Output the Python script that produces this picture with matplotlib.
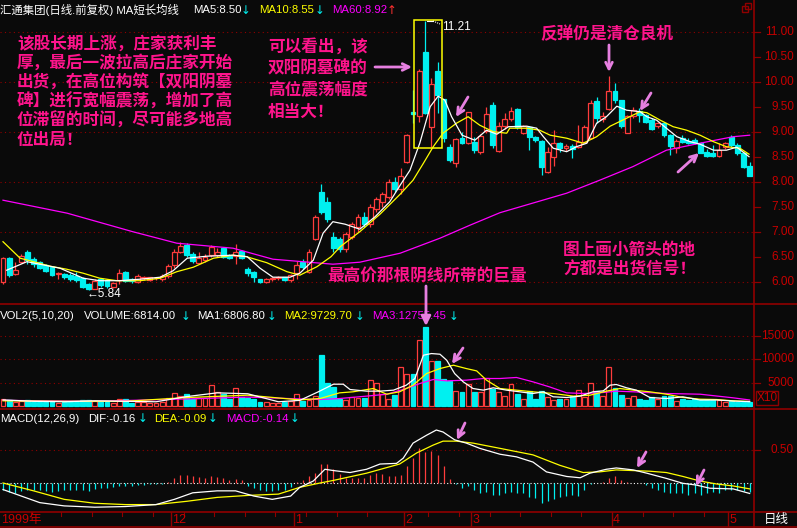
import matplotlib
matplotlib.use('Agg')
import matplotlib.pyplot as plt
import numpy as np

# ---------------- 数据 ----------------
opens = [6.00, 6.47, 6.15, 6.40, 6.60, 6.45, 6.40, 6.33, 6.30, 6.15,
         6.15, 6.14, 6.11, 6.07, 5.95, 5.86, 6.05, 6.03, 5.90, 6.03,
         6.20, 6.06, 6.00, 6.08, 6.04, 6.07, 6.05, 6.11, 6.33, 6.60,
         6.73, 6.55, 6.38, 6.43, 6.53, 6.53, 6.67, 6.53, 6.51, 6.61,
         6.25, 6.20, 6.05, 5.99, 6.05, 6.07, 6.09, 6.03, 6.17, 6.40,
         6.20, 6.85, 7.80, 7.60, 6.90, 6.85, 6.65, 6.90, 7.10, 7.30,
         7.15, 7.45, 7.60, 7.70, 8.00, 7.85, 8.40, 9.40, 9.31, 10.59,
         9.10, 10.21, 9.65, 8.70, 8.38, 8.87, 8.78, 8.80, 8.60, 9.02,
         9.53, 8.62, 9.12, 9.25, 9.45, 8.97, 9.09, 8.89, 8.81, 8.20,
         8.50, 8.78, 8.68, 8.71, 8.70, 8.80, 8.87, 9.62, 9.25, 9.45,
         9.82, 9.63, 8.98, 9.31, 9.42, 9.33, 9.23, 9.11, 9.18, 8.93,
         8.68, 8.87, 8.82, 8.83, 8.78, 8.60, 8.57, 8.51, 8.69, 8.89,
         8.73, 8.57, 8.31]
highs = [6.50, 6.50, 6.40, 6.55, 6.63, 6.50, 6.42, 6.35, 6.32, 6.20,
         6.18, 6.18, 6.20, 6.10, 5.98, 6.06, 6.08, 6.06, 6.00, 6.25,
         6.22, 6.08, 6.15, 6.12, 6.10, 6.10, 6.15, 6.35, 6.66, 6.79,
         6.78, 6.60, 6.60, 6.55, 6.73, 6.68, 6.70, 6.56, 6.76, 6.63,
         6.30, 6.22, 6.06, 6.07, 6.09, 6.11, 6.10, 6.15, 6.42, 6.45,
         6.65, 7.33, 7.95, 7.70, 7.00, 6.90, 7.00, 7.20, 7.35, 7.40,
         7.55, 7.70, 7.80, 8.05, 8.10, 8.27, 8.95, 9.83, 10.26, 11.21,
         10.07, 10.40, 9.65, 8.75, 8.88, 9.00, 9.40, 8.90, 8.95, 9.50,
         9.60, 9.20, 9.37, 9.50, 9.48, 9.14, 9.12, 8.92, 8.83, 8.70,
         9.03, 8.80, 8.76, 8.75, 9.14, 9.14, 9.63, 9.70, 9.40, 10.11,
         9.98, 9.63, 9.33, 9.50, 9.48, 9.36, 9.27, 9.20, 9.20, 8.95,
         8.85, 8.93, 8.88, 8.88, 8.80, 8.65, 8.73, 8.78, 8.80, 8.93,
         8.77, 8.59, 8.40]
lows = [5.95, 6.10, 6.13, 6.38, 6.35, 6.30, 6.25, 6.20, 6.12, 6.05,
        6.06, 6.02, 6.00, 5.88, 5.84, 5.85, 5.90, 5.88, 5.88, 5.95,
        6.00, 5.98, 5.98, 6.04, 6.02, 6.03, 6.02, 6.08, 6.28, 6.58,
        6.50, 6.38, 6.35, 6.40, 6.50, 6.50, 6.48, 6.45, 6.35, 6.45,
        6.12, 6.00, 5.98, 5.97, 6.02, 6.04, 6.02, 6.00, 6.05, 6.25,
        6.18, 6.83, 7.35, 7.20, 6.60, 6.60, 6.60, 6.85, 7.00, 7.10,
        7.10, 7.40, 7.50, 7.65, 7.80, 7.75, 8.38, 9.17, 9.20, 9.35,
        8.70, 9.37, 8.80, 8.40, 8.30, 8.75, 8.75, 8.58, 8.55, 8.97,
        8.68, 8.60, 9.05, 9.22, 9.05, 8.95, 8.63, 8.80, 8.14, 8.17,
        8.32, 8.60, 8.62, 8.47, 8.68, 8.78, 8.85, 9.17, 9.20, 9.43,
        9.58, 9.08, 8.97, 9.28, 9.20, 9.18, 9.03, 9.07, 8.90, 8.53,
        8.57, 8.78, 8.76, 8.76, 8.57, 8.49, 8.50, 8.50, 8.65, 8.70,
        8.53, 8.27, 8.11]
closes = [6.47, 6.13, 6.23, 6.51, 6.43, 6.36, 6.27, 6.22, 6.13, 6.17,
          6.09, 6.06, 6.03, 5.90, 5.86, 6.02, 5.93, 5.92, 5.97, 6.18,
          6.02, 6.01, 6.11, 6.09, 6.09, 6.07, 6.11, 6.31, 6.60, 6.71,
          6.53, 6.42, 6.48, 6.50, 6.70, 6.60, 6.50, 6.48, 6.60, 6.47,
          6.17, 6.09, 6.00, 6.05, 6.07, 6.09, 6.03, 6.13, 6.33, 6.30,
          6.60, 7.30, 7.40, 7.25, 6.67, 6.65, 6.95, 7.15, 7.30, 7.15,
          7.50, 7.65, 7.75, 8.00, 7.85, 8.12, 8.93, 9.36, 10.21, 9.38,
          9.95, 9.73, 8.87, 8.43, 8.85, 8.78, 9.40, 8.63, 8.91, 9.35,
          8.73, 9.11, 9.25, 9.42, 9.10, 9.11, 8.90, 8.84, 8.30, 8.59,
          8.78, 8.67, 8.71, 8.65, 8.80, 9.09, 9.57, 9.27, 9.31, 9.82,
          9.63, 9.11, 9.31, 9.43, 9.33, 9.20, 9.05, 9.17, 8.93, 8.71,
          8.82, 8.80, 8.78, 8.77, 8.58, 8.52, 8.52, 8.63, 8.78, 8.73,
          8.57, 8.30, 8.11]
volumes = [1500, 1200, 900, 1100, 1300, 900, 800, 900, 1000, 700,
           800, 900, 800, 1200, 1300, 1100, 900, 800, 700, 1500,
           1400, 700, 900, 800, 700, 600, 900, 1600, 2800, 2200,
           2500, 1500, 1800, 1700, 4400, 3000, 2500, 1500, 3800, 2000,
           1800, 1500, 900, 800, 700, 700, 800, 1100, 2500, 1020,
           1280, 2230, 10810, 4940, 4070, 1520, 1280, 1850, 1640, 1780,
           5500, 4940, 2500, 1500, 2300, 8400, 6900, 6900, 14000, 16840,
           9520, 9520, 5640, 5290, 3160, 2950, 4580, 3020, 3020, 6000,
           3700, 3020, 2100, 4650, 2510, 1590, 3230, 1450, 3160, 1990,
           1280, 1450, 1450, 2100, 3370, 1990, 5000, 3160, 2100, 8400,
           3800, 2300, 1780, 2100, 1520, 1380, 1850, 1520, 2230, 2230,
           1130, 1520, 1380, 1450, 1380, 1280, 1380, 1280, 920, 1130,
           920, 920, 850]
macd_bars = [-0.10, -0.14, -0.16, -0.12, -0.10, -0.10, -0.11, -0.12, -0.13, -0.12,
             -0.11, -0.10, -0.10, -0.11, -0.12, -0.09, -0.08, -0.07, -0.06, -0.04,
             -0.04, -0.04, -0.03, -0.03, -0.02, -0.02, -0.01, 0.02, 0.08, 0.12,
             0.12, 0.10, 0.09, 0.08, 0.10, 0.09, 0.07, 0.05, 0.06, 0.04,
             -0.04, -0.08, -0.11, -0.12, -0.12, -0.11, -0.10, -0.06, 0.02, 0.05,
             0.10, 0.16, 0.29, 0.29, 0.22, 0.14, 0.07, 0.08, 0.08, 0.07,
             0.12, 0.16, 0.13, 0.10, 0.10, 0.12, 0.26, 0.38, 0.53, 0.48,
             0.49, 0.43, 0.26, 0.06, -0.02, -0.08, -0.04, -0.11, -0.16, -0.13,
             -0.18, -0.18, -0.16, -0.13, -0.16, -0.16, -0.21, -0.23, -0.30, -0.28,
             -0.25, -0.22, -0.20, -0.18, -0.20, -0.11, -0.01, 0.0, 0.02, 0.08,
             0.10, 0.04, 0.01, 0.005, 0.0, -0.03, -0.07, -0.11, -0.13, -0.16,
             -0.16, -0.16, -0.18, -0.16, -0.18, -0.16, -0.13, -0.16, -0.11, -0.10,
             -0.10, -0.12, -0.14]

# 均线折点 (K线序号, 数值)
ma5_idx = [0.6, 3.9, 6.0, 9.3, 13.1, 15.8, 19.1, 22.4, 25.7, 27.8, 30.1, 33.3, 37.6,
           39.9, 42.0, 44.1, 46.9, 48.5, 50.7, 52.3, 53.9, 55.9, 58.3, 60.8, 63.2,
           65.0, 66.5, 68.1, 69.8, 71.1, 72.2, 73.3, 75.0, 77.1, 79.0, 80.7, 82.6,
           85.6, 87.2, 88.3, 89.9, 92.1, 93.7, 95.4, 97.0, 98.6, 100.3, 101.9,
           104.1, 105.2, 106.8, 108.4, 110.1, 112.3, 113.9, 116.1, 118.2, 119.9,
           121.9]
ma5_val = [6.23, 6.40, 6.35, 6.27, 6.07, 6.02, 6.02, 6.05, 6.09, 6.22, 6.47, 6.51, 6.53,
           6.50, 6.27, 6.09, 6.09, 6.17, 6.43, 6.97, 7.20, 7.15, 7.05, 7.30, 7.60,
           7.95, 8.23, 8.77, 9.50, 9.71, 9.63, 9.30, 8.93, 8.83, 9.03, 8.95, 9.10,
           9.11, 9.07, 8.90, 8.67, 8.60, 8.70, 8.77, 9.17, 9.30, 9.51, 9.43,
           9.40, 9.30, 9.23, 9.07, 8.90, 8.80, 8.75, 8.63, 8.63, 8.69,
           8.50]
ma10_idx = [0.0, 2.8, 5.0, 7.7, 10.4, 13.1, 15.8, 18.6, 22.4, 25.7, 28.4, 31.1, 34.4,
            37.6, 39.8, 43.1, 46.4, 48.5, 51.3, 53.6, 55.1, 58.3, 61.6, 64.9, 67.0,
            68.7, 70.3, 71.9, 74.1, 76.0, 77.9, 80.1, 82.3, 82.8, 85.6, 87.7, 89.4,
            92.1, 94.8, 97.0, 99.2, 101.9, 104.1, 105.2, 107.4, 109.5, 111.7, 113.9,
            116.1, 118.2, 120.4, 121.9]
ma10_val = [6.80, 6.47, 6.40, 6.31, 6.25, 6.17, 6.07, 6.02, 6.02, 6.07, 6.20, 6.29, 6.47,
            6.53, 6.50, 6.38, 6.20, 6.13, 6.30, 6.50, 6.70, 7.00, 7.35, 7.75, 8.03,
            8.37, 8.70, 8.97, 9.17, 9.30, 9.13, 9.00, 8.97, 9.07, 9.07, 9.03, 8.93,
            8.87, 8.77, 8.90, 9.11, 9.27, 9.40, 9.38, 9.23, 9.10, 9.03, 8.93,
            8.80, 8.70, 8.67, 8.55]
ma60_idx = [0.0, 10.5, 21.2, 28.4, 37.6, 44.1, 53.9, 58.3, 64.9, 71.4, 76.3, 81.2,
            92.1, 97.5, 102.9, 108.4, 113.9, 119.3, 122.0]
ma60_val = [7.63, 7.37, 7.00, 6.77, 6.67, 6.45, 6.35, 6.39, 6.57, 6.87, 7.13, 7.38,
            7.77, 8.03, 8.30, 8.63, 8.77, 8.90, 8.93]

vma1_idx = [0, 5, 10, 15, 20, 25, 30, 35, 40, 45, 48.5, 51.5, 54.0, 55.6, 56.7, 59.4,
            61.6, 63.8, 65.9, 67.3, 68.7, 70.0, 71.4, 72.5, 73.8, 75.2, 76.8, 78.5,
            80.1, 82.3, 84.4, 86.6, 88.3, 89.9, 92.1, 94.3, 96.4, 98.1, 99.2, 100.2,
            101.9, 103.5, 105.7, 108.4, 111.1, 113.9, 116.6, 119.3, 122.0]
vma1_val = [1300, 1000, 900, 1100, 1000, 900, 2000, 2800, 2600, 900, 1200, 3010, 4640,
            4640, 3510, 3160, 3160, 3370, 4430, 5850, 10810, 11160, 11020, 9740, 6900,
            5140, 3720, 3370, 3870, 3370, 3020, 2660, 3020, 1960, 1810, 2100, 3020,
            3230, 4430, 4580, 3870, 3370, 1810, 1590, 1950, 1280, 1280, 1060, 920]
vma2_idx = [0, 10, 20, 30, 40, 48.5, 51.8, 55.0, 57.2, 60.5, 62.7, 64.8, 67.0, 69.2,
            71.4, 73.6, 75.7, 77.4, 79.0, 81.2, 83.9, 86.6, 89.9, 93.2, 95.9, 98.6,
            100.8, 103.0, 105.7, 108.4, 111.1, 113.9, 116.6, 119.3, 122.0]
vma2_val = [1100, 1000, 1000, 1800, 2300, 1300, 1590, 2800, 3020, 3720, 2510, 3020,
            4430, 6900, 7970, 8680, 7970, 7470, 5500, 3720, 3370, 3020, 2660, 2100,
            2300, 3160, 3720, 3370, 3020, 2510, 1810, 1450, 1380, 1100, 970]
vma3_idx = [0, 15, 30, 40, 48.5, 51.8, 55.0, 59.4, 62.7, 65.9, 68.1, 70.3, 72.5, 75.7,
            78.5, 81.2, 83.9, 86.6, 89.3, 92.1, 94.8, 97.5, 100.2, 103.0, 108.4,
            113.9, 119.3, 122.0]
vma3_val = [1200, 1000, 1500, 1900, 1500, 1380, 1590, 2100, 2510, 3720, 4780, 5640,
            5350, 5500, 5850, 5850, 6070, 5140, 4070, 2800, 2660, 2800, 3160, 3020,
            2660, 2510, 1740, 1280]

dif_idx = [0, 3, 6, 10, 15, 20, 25, 28, 31, 35, 38, 41, 44, 47, 48.5, 50.7, 52.6,
           54.0, 56.7, 59.4, 61.6, 64.3, 65.4, 67.0, 69.2, 70.8, 71.9, 73.8, 75.7,
           77.9, 81.2, 83.9, 86.6, 88.8, 92.1, 94.3, 95.9, 98.6, 100.2, 103.0, 105.2,
           108.4, 111.1, 113.2, 115.5, 119.3, 122.0]
dif_val = [-0.10, -0.20, -0.30, -0.35, -0.37, -0.36, -0.33, -0.25, -0.15, -0.12, -0.12,
           -0.20, -0.25, -0.20, -0.066, 0.03, 0.21, 0.19, 0.16, 0.21, 0.29, 0.30,
           0.38, 0.61, 0.73, 0.81, 0.78, 0.66, 0.61, 0.53, 0.44, 0.40, 0.32, 0.17,
           0.10, 0.08, 0.15, 0.21, 0.23, 0.20, 0.15, 0.07, -0.005, -0.03, -0.08,
           -0.09, -0.16]
dea_idx = [0, 5, 10, 15, 20, 25, 30, 35, 40, 45, 48.5, 51.8, 54.0, 59.4, 64.8, 67.6,
           70.3, 71.9, 74.1, 76.8, 81.2, 86.6, 91.0, 94.8, 97.5, 100.2, 105.7, 108.4,
           111.1, 113.9, 116.6, 119.3, 122.0]
dea_val = [0.0, -0.12, -0.25, -0.31, -0.33, -0.33, -0.28, -0.22, -0.19, -0.17, -0.066,
           0.0, 0.04, 0.15, 0.29, 0.46, 0.58, 0.64, 0.64, 0.61, 0.53, 0.43, 0.27,
           0.16, 0.17, 0.20, 0.18, 0.16, 0.10, 0.03, -0.015, -0.045, -0.09]

price_ticks = [6.0, 6.5, 7.0, 7.5, 8.0, 8.5, 9.0, 9.5, 10.0, 10.5, 11.0]
vol_ticks = [5000, 10000, 15000]
month_idx = [28, 48, 66, 77, 100, 119]
month_lbl = ['12', '1', '2', '3', '4', '5']

# ---------------- 样式 ----------------
BG = '#0a0a0a'
AXRED = '#900000'
TXTRED = '#c80000'
UP = '#ff3c3c'
DOWN = '#00f0f0'
PINK = '#ff148c'
ARROW = '#e67fe0'
YEL = '#ffff00'
MAG = '#ff00ff'

plt.rcParams['font.family'] = ['Liberation Sans', 'Noto Sans CJK SC', 'DejaVu Sans']

W, H = 797, 528
fig = plt.figure(figsize=(W / 100, H / 100), dpi=100, facecolor=BG)

XL = (-3 / 6.12, (754 - 3) / 6.12)


def px_axes(x0, y0, x1, y1, ylim):
    ax = fig.add_axes([x0 / W, 1 - y1 / H, (x1 - x0) / W, (y1 - y0) / H])
    ax.set_facecolor('none')
    ax.set_xlim(*XL)
    ax.set_ylim(*ylim)
    ax.axis('off')
    return ax


ax_p = px_axes(0, 0, 754, 303.5, (11 - (303.5 - 31.7) / 50, 11 + 31.7 / 50))
ax_v = px_axes(0, 303.5, 754, 408.5, (-2.5 * 212.8, 102.5 * 212.8))
ax_m = px_axes(0, 408.5, 754, 511.5, (-(511.5 - 483) / 65.4, (483 - 408.5) / 65.4))
ov = fig.add_axes([0, 0, 1, 1])
ov.set_xlim(0, W)
ov.set_ylim(H, 0)
ov.axis('off')
ov.set_facecolor('none')

n = len(opens)
xs = np.arange(n)
o = np.array(opens)
c = np.array(closes)
up = c >= o

# 网格虚线
for v in [6, 7, 8, 9, 10, 11]:
    ax_p.axhline(v, color=AXRED, lw=0.8, ls=(0, (1, 3)), zorder=0)
for v in vol_ticks:
    ax_v.axhline(v, color=AXRED, lw=0.8, ls=(0, (1, 3)), zorder=0)
ax_m.axhline(0.5, color=AXRED, lw=0.8, ls=(0, (1, 3)), zorder=0)
ax_m.axhline(0.0, color='white', lw=0.8, ls=(0, (1, 2)), zorder=1)

# K线
bw = 0.8
for i in range(n):
    col = UP if up[i] else DOWN
    top = max(o[i], c[i])
    bot = min(o[i], c[i])
    ax_p.vlines(xs[i], lows[i], highs[i], color=col, lw=0.9, zorder=2)
    h = max(top - bot, 0.004)
    if up[i]:
        ax_p.bar(xs[i], h, bottom=bot, width=bw, facecolor=BG, edgecolor=col,
                 linewidth=0.9, zorder=3)
    else:
        ax_p.bar(xs[i], h, bottom=bot, width=bw, facecolor=col, edgecolor=col,
                 linewidth=0.9, zorder=3)

ax_p.plot(ma60_idx, ma60_val, color=MAG, lw=0.9, zorder=4)
ax_p.plot(ma10_idx, ma10_val, color=YEL, lw=0.9, zorder=4)
ax_p.plot(ma5_idx, ma5_val, color='white', lw=0.9, zorder=4)

# 成交量
for i in range(n):
    col = UP if up[i] else DOWN
    if up[i]:
        ax_v.bar(xs[i], volumes[i], width=bw, facecolor=BG, edgecolor=col,
                 linewidth=0.9, zorder=2)
    else:
        ax_v.bar(xs[i], volumes[i], width=bw, facecolor=col, edgecolor=col,
                 linewidth=0.9, zorder=2)
ax_v.plot(vma3_idx, vma3_val, color=MAG, lw=0.9, zorder=3)
ax_v.plot(vma2_idx, vma2_val, color=YEL, lw=0.9, zorder=3)
ax_v.plot(vma1_idx, vma1_val, color='white', lw=0.9, zorder=3)

# MACD
mb = np.array(macd_bars)
ax_m.vlines(xs, 0, mb, colors=[UP if v >= 0 else DOWN for v in mb], lw=0.9, zorder=2)
ax_m.plot(dea_idx, dea_val, color=YEL, lw=0.9, zorder=3)
ax_m.plot(dif_idx, dif_val, color='white', lw=0.9, zorder=3)

# 右侧刻度
rx = 794 / 754
for v in price_ticks:
    ax_p.plot([1.0, 1.008], [v, v], color=AXRED, lw=0.9, clip_on=False,
              transform=ax_p.get_yaxis_transform())
    ax_p.text(rx, v, f'{v:.2f}', color=TXTRED, fontsize=8.5, ha='right', va='center',
              transform=ax_p.get_yaxis_transform())
for v in vol_ticks:
    ax_v.plot([1.0, 1.008], [v, v], color=AXRED, lw=0.9, clip_on=False,
              transform=ax_v.get_yaxis_transform())
    ax_v.text(rx, v, f'{v}', color=TXTRED, fontsize=8.5, ha='right', va='center',
              transform=ax_v.get_yaxis_transform())
ax_m.plot([1.0, 1.008], [0.5, 0.5], color=AXRED, lw=0.9, clip_on=False,
          transform=ax_m.get_yaxis_transform())
ax_m.text(rx, 0.5, '0.50', color=TXTRED, fontsize=8.5, ha='right', va='center',
          transform=ax_m.get_yaxis_transform())

# 边框线
ov.plot([754, 754], [0, H], color=AXRED, lw=1.2)
for y in [303.5, 408.5, 511.5]:
    ov.plot([0, W], [y, y], color=AXRED, lw=1.2)
ov.plot([0, W], [527.3, 527.3], color=AXRED, lw=1.2)
ov.add_patch(plt.Rectangle((756, 390.5), 22, 14, fill=False, ec=AXRED, lw=1))
ov.text(767, 398, 'X10', color=TXTRED, fontsize=8.5, ha='center', va='center')
ov.add_patch(plt.Rectangle((745, 3), 6, 6, fill=False, ec=AXRED, lw=1))
ov.add_patch(plt.Rectangle((742, 6), 6, 6, fill=False, ec=AXRED, lw=1))

# 日期轴
ax_d = fig.add_axes([0, 1 - 527.3 / H, 754 / W, (527.3 - 511.5) / H])
ax_d.set_xlim(*XL)
ax_d.set_ylim(1, 0)
ax_d.axis('off')
ax_d.set_facecolor('none')
ax_d.text(-0.3, 0.55, '1999年', color=TXTRED, fontsize=9, va='center', ha='left')
for k, lbl in zip(month_idx, month_lbl):
    ax_d.plot([k - 0.5, k - 0.5], [0, 1], color=AXRED, lw=1)
    ax_d.text(k - 0.3, 0.55, lbl, color=TXTRED, fontsize=9, va='center', ha='left')
for k in range(5, n, 5):
    if all(abs(k - m) > 1 for m in month_idx):
        ax_d.plot([k - 0.5, k - 0.5], [0, 0.3], color=AXRED, lw=0.8)
ov.text(776, 519.5, '日线', color='white', fontsize=9, ha='center', va='center')

# 标题行
HF = 8.2


def hdr(x, y, s, col):
    ov.text(x, y, s, color=col, fontsize=HF, ha='left', va='center')


def darr(x, y, col=DOWN, s='↓'):
    ov.text(x, y + 0.5, s, color=col, fontsize=8.5, ha='center', va='center',
            family=['DejaVu Sans'])


hdr(0, 10, '汇通集团(日线.前复权) MA短长均线', 'white')
hdr(193, 10, 'MA5:8.50', 'white')
darr(246, 10)
hdr(259, 10, 'MA10:8.55', YEL)
darr(320, 10)
hdr(332, 10, 'MA60:8.92', MAG)
darr(392, 10, '#ff3030', '↑')

hdr(0, 316, 'VOL2(5,10,20)', 'white')
hdr(84, 316, 'VOLUME:6814.00', 'white')
darr(186, 316)
hdr(197, 316, 'MA1:6806.80', 'white')
darr(272, 316)
hdr(284, 316, 'MA2:9729.70', YEL)
darr(360, 316)
hdr(372, 316, 'MA3:12755.45', MAG)
darr(454, 316)

hdr(0, 418.5, 'MACD(12,26,9)', 'white')
hdr(88, 418.5, 'DIF:-0.16', 'white')
darr(143, 418.5)
hdr(154, 418.5, 'DEA:-0.09', YEL)
darr(213, 418.5)
hdr(226, 418.5, 'MACD:-0.14', MAG)
darr(295, 418.5)

# 注释文字
cjk = ['Noto Sans CJK SC', 'DejaVu Sans']
left_lines = ['该股长期上涨，庄家获利丰', '厚，最后一波拉高后庄家开始',
              '出货，在高位构筑【双阳阴墓', '碑】进行宽幅震荡，增加了高',
              '位滞留的时间，尽可能多地高', '位出局！']
for k, s in enumerate(left_lines):
    ov.text(17, 43.5 + k * 19.3, s, color=PINK, fontsize=12, fontweight='bold',
            family=cjk, ha='left', va='center')
mid_lines = ['可以看出，该', '双阳阴墓碑的', '高位震荡幅度', '相当大！']
for k, s in enumerate(mid_lines):
    ov.text(268, 47 + k * 21.5, s, color=PINK, fontsize=12, fontweight='bold',
            family=cjk, ha='left', va='center')
ov.text(540, 34, '反弹仍是清仓良机', color=PINK, fontsize=12, fontweight='bold',
        family=cjk, ha='left', va='center')
ov.text(327, 277, '最高价那根阴线所带的巨量', color=PINK, fontsize=12, fontweight='bold',
        family=cjk, ha='left', va='center')
ov.text(563, 250, '图上画小箭头的地', color=PINK, fontsize=12, fontweight='bold',
        family=cjk, ha='left', va='center')
ov.text(563, 269, '方都是出货信号！', color=PINK, fontsize=12, fontweight='bold',
        family=cjk, ha='left', va='center')

ov.text(442, 27, '11.21', color='white', fontsize=8.5, ha='left', va='center')
ov.plot([427, 433], [20.5, 20.5], color='white', lw=0.8)
ov.plot([433, 440], [21, 24], color='white', lw=0.8, ls=(0, (1, 1)))
ov.text(87, 294, '←5.84', color='white', fontsize=8.5, ha='left', va='center',
        family=['Liberation Sans', 'DejaVu Sans'])

# 黄框
ov.add_patch(plt.Rectangle((414.3, 20), 28, 128.3, fill=False, ec=YEL, lw=1.1))


# 箭头
def arr(x0, y0, x1, y1, style='->', lw=2.0, ms=12):
    ov.annotate('', xy=(x1, y1), xytext=(x0, y0),
                arrowprops=dict(arrowstyle=style, color=ARROW, lw=lw,
                                mutation_scale=ms, shrinkA=0, shrinkB=0))


arr(375, 67, 412, 67)
arr(468, 97, 456, 117)
arr(609, 45, 609, 72)
arr(651, 93, 640, 111)
arr(678, 172, 699, 153)
arr(426, 286, 426, 326, style='-|>', ms=14)
arr(463, 348, 452, 364)
arr(465, 423, 457, 440)
arr(646, 452, 637, 468)
arr(704, 470, 696, 486)

fig.savefig('out.png', dpi=100, facecolor=BG)
